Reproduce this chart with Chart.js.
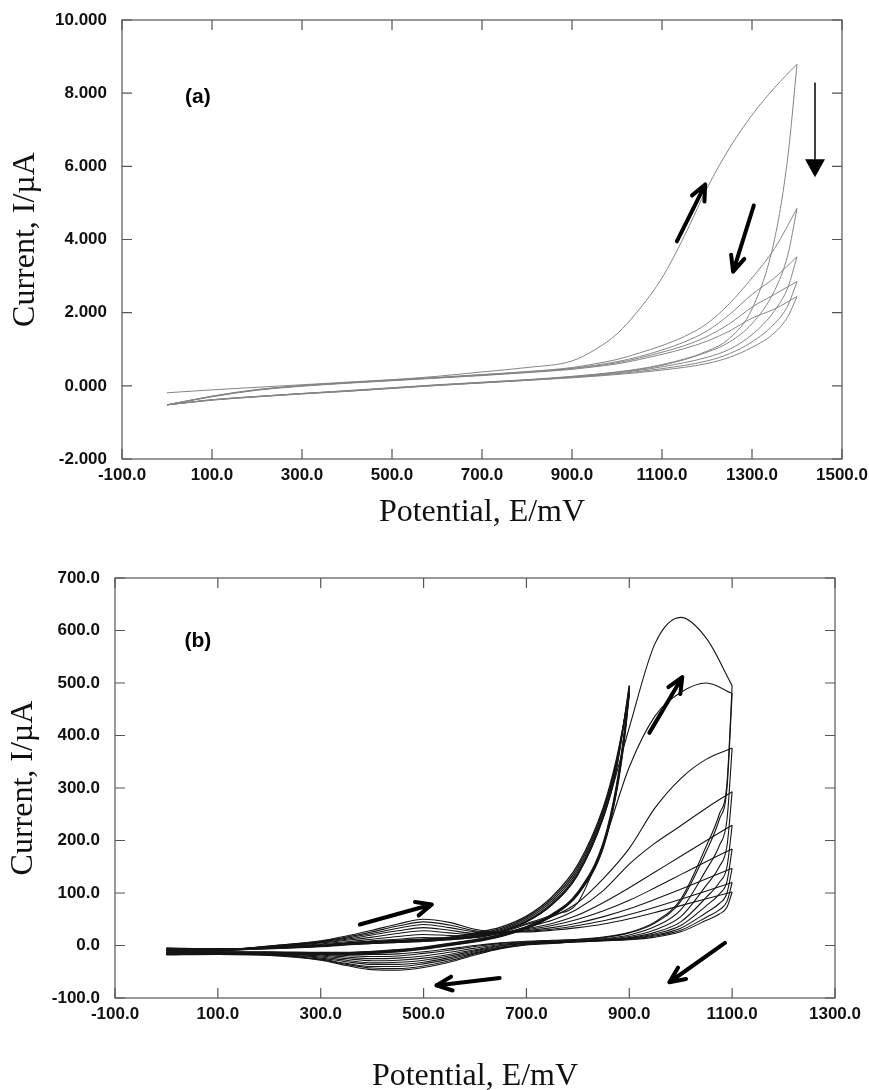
<!DOCTYPE html>
<html>
<head>
<meta charset="utf-8">
<title>Cyclic voltammograms</title>
<script src="https://cdn.jsdelivr.net/npm/chart.js@4.4.1/dist/chart.umd.min.js"></script>
<style>
  body { margin: 0; background: #fff; }
  .panel { position: absolute; left: 0; width: 869px; }
  #wrapA { top: 0; height: 540px; }
  #wrapB { top: 540px; height: 550px; }
</style>
</head>
<body>
<div id="wrapA" class="panel"><canvas id="PanelA"></canvas></div>
<div id="wrapB" class="panel"><canvas id="PanelB"></canvas></div>
<script>
// ---- panel (a): 5 cycles, 0 -> 1400 mV ----
var A_X_TICKS = [-100, 100, 300, 500, 700, 900, 1100, 1300, 1500];
var A_Y_TICKS = [-2, 0, 2, 4, 6, 8, 10];

var A_E_FWD = [0, 100, 200, 300, 400, 500, 600, 700, 800, 900, 950, 1000, 1050, 1100, 1150, 1200, 1250, 1300, 1350, 1400];
var A_FWD1 = [-0.19, -0.11, -0.04, 0.03, 0.10, 0.17, 0.26, 0.38, 0.50, 0.68, 0.98, 1.42, 2.10, 2.95, 4.10, 5.40, 6.50, 7.40, 8.15, 8.79];
var A_FWD2 = [-0.52, -0.28, -0.10, 0.01, 0.09, 0.16, 0.23, 0.31, 0.39, 0.50, 0.60, 0.72, 0.90, 1.10, 1.35, 1.70, 2.25, 2.95, 3.75, 4.85];
var A_FWD3 = [-0.52, -0.29, -0.11, 0.00, 0.08, 0.15, 0.22, 0.30, 0.38, 0.48, 0.56, 0.66, 0.80, 0.98, 1.20, 1.50, 1.95, 2.50, 2.95, 3.53];
var A_FWD4 = [-0.52, -0.29, -0.11, 0.00, 0.08, 0.15, 0.22, 0.29, 0.37, 0.47, 0.54, 0.63, 0.76, 0.92, 1.10, 1.35, 1.70, 2.15, 2.50, 2.85];
var A_FWD5 = [-0.52, -0.30, -0.12, -0.01, 0.07, 0.14, 0.21, 0.28, 0.36, 0.45, 0.52, 0.60, 0.72, 0.86, 1.02, 1.22, 1.50, 1.85, 2.10, 2.44];

var A_E_REV = [1400, 1380, 1350, 1300, 1250, 1200, 1100, 1000, 900, 800, 700, 600, 500, 400, 300, 200, 100, 0];
var A_REV1 = [8.79, 6.30, 4.00, 2.10, 1.30, 0.95, 0.58, 0.38, 0.26, 0.17, 0.10, 0.03, -0.05, -0.13, -0.21, -0.29, -0.38, -0.52];
var A_REV2 = [4.85, 3.60, 2.60, 1.70, 1.20, 0.92, 0.56, 0.37, 0.25, 0.16, 0.09, 0.02, -0.06, -0.14, -0.21, -0.29, -0.38, -0.52];
var A_REV3 = [3.53, 2.70, 2.05, 1.40, 1.00, 0.78, 0.52, 0.35, 0.24, 0.16, 0.09, 0.02, -0.06, -0.14, -0.21, -0.29, -0.38, -0.52];
var A_REV4 = [2.85, 2.20, 1.70, 1.20, 0.88, 0.68, 0.47, 0.33, 0.23, 0.15, 0.08, 0.01, -0.07, -0.15, -0.22, -0.30, -0.39, -0.52];
var A_REV5 = [2.44, 1.90, 1.45, 1.05, 0.78, 0.61, 0.43, 0.31, 0.22, 0.15, 0.08, 0.01, -0.07, -0.15, -0.22, -0.30, -0.39, -0.52];

// ---- panel (b): cycles to 1100 mV and cycles to 900 mV ----
var B_X_TICKS = [-100, 100, 300, 500, 700, 900, 1100, 1300];
var B_Y_TICKS = [-100, 0, 100, 200, 300, 400, 500, 600, 700];

var B_E_FWD = [0, 100, 200, 300, 350, 400, 450, 500, 550, 600, 650, 700, 750, 800, 850, 900, 950, 1000, 1050, 1100];
var B_FWD1 = [-5, -6, -5, -1, 2, 4, 6, 8, 11, 16, 26, 45, 78, 135, 245, 415, 575, 625, 585, 495];
var B_FWD2 = [-6, -7, -4, 0, 3, 6, 8, 10, 13, 18, 27, 42, 58, 82, 195, 340, 437, 482, 500, 480];
var B_FWD3 = [-7, -7, -4, 2, 5, 9, 12, 15, 14, 15, 24, 40, 55, 82, 128, 185, 262, 318, 355, 376];
var B_FWD4 = [-8, -8, -3, 3, 7, 12, 17, 21, 19, 18, 23, 35, 48, 70, 105, 155, 195, 228, 262, 293];
var B_FWD5 = [-5, -7, -3, 5, 10, 16, 23, 28, 24, 21, 24, 32, 42, 58, 82, 110, 140, 170, 200, 229];
var B_FWD6 = [-6, -8, -2, 6, 12, 20, 28, 34, 29, 23, 24, 30, 38, 50, 66, 86, 110, 135, 160, 184];
var B_FWD7 = [-7, -8, -2, 7, 14, 23, 33, 40, 34, 26, 24, 28, 34, 43, 55, 70, 88, 107, 127, 147];
var B_FWD8 = [-8, -9, -1, 8, 16, 26, 37, 45, 39, 28, 25, 27, 31, 38, 47, 59, 73, 88, 104, 120];
var B_FWD9 = [-9, -9, -1, 9, 18, 29, 41, 50, 44, 31, 26, 26, 29, 34, 41, 51, 63, 76, 89, 102];

var B_E_REV = [1100, 1090, 1075, 1050, 1000, 950, 900, 850, 800, 750, 700, 650, 600, 550, 500, 450, 400, 350, 300, 200, 100, 0];
var B_REV1 = [495, 310, 250, 190, 88, 45, 25, 16, 12, 10, 8, 5, 0, -6, -12, -16, -17, -16, -15, -13, -12, -12];
var B_REV2 = [480, 300, 240, 180, 84, 43, 24, 15, 11, 9, 7, 4, -2, -9, -15, -20, -21, -19, -17, -14, -13, -13];
var B_REV3 = [376, 240, 190, 145, 68, 36, 20, 13, 10, 8, 6, 2, -5, -13, -20, -24, -25, -22, -18, -15, -14, -14];
var B_REV4 = [293, 190, 150, 115, 55, 30, 17, 12, 9, 7, 5, 0, -8, -17, -24, -28, -29, -25, -20, -16, -15, -15];
var B_REV5 = [229, 150, 120, 92, 45, 25, 15, 11, 8, 6, 4, -1, -10, -20, -28, -32, -33, -28, -22, -17, -15, -16];
var B_REV6 = [184, 122, 98, 76, 38, 22, 14, 10, 8, 6, 3, -3, -12, -23, -32, -36, -36, -31, -24, -17, -16, -16];
var B_REV7 = [147, 100, 80, 63, 33, 20, 13, 10, 7, 5, 2, -4, -14, -26, -35, -40, -40, -34, -26, -18, -16, -17];
var B_REV8 = [120, 84, 68, 54, 29, 18, 12, 9, 7, 5, 2, -5, -16, -29, -39, -44, -43, -36, -27, -18, -17, -17];
var B_REV9 = [102, 73, 60, 48, 26, 16, 11, 9, 7, 4, 1, -6, -18, -32, -42, -47, -46, -38, -28, -19, -17, -18];

var S_E_FWD = [0, 100, 200, 300, 350, 400, 450, 500, 550, 600, 650, 700, 750, 800, 850, 875, 900];
var S_FWD1 = [-6, -7, -6, -2, 1, 4, 6, 8, 11, 16, 26, 45, 78, 135, 245, 335, 495];
var S_FWD2 = [-7, -8, -6, -1, 2, 5, 7, 9, 12, 18, 28, 47, 81, 139, 250, 340, 490];
var S_FWD3 = [-8, -8, -5, -1, 3, 6, 8, 10, 13, 20, 30, 50, 85, 144, 255, 345, 486];
var S_FWD4 = [-9, -9, -5, 0, 4, 7, 9, 11, 15, 22, 32, 53, 89, 149, 260, 350, 482];
var S_FWD5 = [-10, -10, -5, 0, 4, 8, 10, 12, 16, 24, 35, 56, 93, 154, 265, 355, 478];

var S_E_REV = [900, 890, 875, 850, 800, 750, 700, 650, 600, 550, 500, 450, 400, 350, 300, 200, 100, 0];
var S_REV1 = [495, 405, 305, 198, 102, 60, 36, 21, 11, 4, -3, -8, -11, -13, -13, -12, -12, -12];
var S_REV2 = [490, 400, 300, 195, 100, 59, 35, 20, 10, 3, -4, -9, -12, -14, -14, -13, -13, -13];
var S_REV3 = [486, 396, 297, 192, 99, 58, 34, 19, 9, 2, -5, -10, -13, -15, -15, -14, -14, -15];
var S_REV4 = [482, 392, 294, 190, 98, 57, 33, 18, 8, 1, -6, -11, -14, -16, -16, -15, -15, -16];
var S_REV5 = [478, 388, 291, 188, 97, 56, 32, 17, 7, 0, -7, -12, -15, -17, -17, -16, -16, -17];

var SERIF = '"Liberation Serif", "Times New Roman", serif';
var SANS = '"Liberation Sans", Arial, sans-serif';

// pairs a potential grid with a current list
function branch(E, I, color, width)
{
  return {
    data: E.map(function (e, i) { return { x: e, y: I[i] }; }),
    showLine: true,
    borderColor: color,
    borderWidth: width,
    pointRadius: 0,
    cubicInterpolationMode: 'monotone'
  };
}

// box round the plot area with inward ticks on all four sides
var frameTicks = {
  id: 'frameTicks',
  afterDraw: function (chart)
  {
    var ctx = chart.ctx, a = chart.chartArea, x = chart.scales.x, y = chart.scales.y;
    var len = 10;
    ctx.save();
    ctx.strokeStyle = '#555';
    ctx.lineWidth = 1.2;
    ctx.strokeRect(a.left, a.top, a.right - a.left, a.bottom - a.top);
    ctx.beginPath();
    x.ticks.forEach(function (t) {
      var px = x.getPixelForValue(t.value);
      ctx.moveTo(px, a.bottom); ctx.lineTo(px, a.bottom - len);
      ctx.moveTo(px, a.top); ctx.lineTo(px, a.top + len);
    });
    y.ticks.forEach(function (t) {
      var py = y.getPixelForValue(t.value);
      ctx.moveTo(a.left, py); ctx.lineTo(a.left + len, py);
      ctx.moveTo(a.right, py); ctx.lineTo(a.right - len, py);
    });
    ctx.stroke();
    ctx.restore();
  }
};

// direction arrows and panel letter, placed in data units
var notes = {
  id: 'notes',
  afterDatasetsDraw: function (chart, args, opts)
  {
    var ctx = chart.ctx, x = chart.scales.x, y = chart.scales.y;
    ctx.save();
    (opts.arrows || []).forEach(function (ar) {
      var x0 = x.getPixelForValue(ar.from[0]), y0 = y.getPixelForValue(ar.from[1]);
      var x1 = x.getPixelForValue(ar.to[0]), y1 = y.getPixelForValue(ar.to[1]);
      var ang = Math.atan2(y1 - y0, x1 - x0);
      ctx.strokeStyle = '#000';
      ctx.fillStyle = '#000';
      if (ar.thin) {
        var head = 18, half = 10;
        ctx.lineWidth = 1.5;
        ctx.beginPath(); ctx.moveTo(x0, y0);
        ctx.lineTo(x1 - head * Math.cos(ang), y1 - head * Math.sin(ang)); ctx.stroke();
        ctx.beginPath();
        ctx.moveTo(x1, y1);
        ctx.lineTo(x1 - head * Math.cos(ang) + half * Math.sin(ang), y1 - head * Math.sin(ang) - half * Math.cos(ang));
        ctx.lineTo(x1 - head * Math.cos(ang) - half * Math.sin(ang), y1 - head * Math.sin(ang) + half * Math.cos(ang));
        ctx.closePath(); ctx.fill();
      } else {
        var barb = 17, spread = 0.42;
        ctx.lineWidth = 4;
        ctx.lineCap = 'round';
        ctx.beginPath();
        ctx.moveTo(x0, y0); ctx.lineTo(x1, y1);
        ctx.moveTo(x1, y1);
        ctx.lineTo(x1 - barb * Math.cos(ang - spread), y1 - barb * Math.sin(ang - spread));
        ctx.moveTo(x1, y1);
        ctx.lineTo(x1 - barb * Math.cos(ang + spread), y1 - barb * Math.sin(ang + spread));
        ctx.stroke();
      }
    });
    if (opts.letter) {
      ctx.font = 'bold 21px ' + SANS;
      ctx.fillStyle = '#000';
      ctx.textAlign = 'left';
      ctx.textBaseline = 'middle';
      ctx.fillText(opts.letter.text, x.getPixelForValue(opts.letter.at[0]), y.getPixelForValue(opts.letter.at[1]));
    }
    ctx.restore();
  }
};

function makePanel(canvasId, cfg)
{
  return new Chart(canvasId, {
    type: 'scatter',
    data: { datasets: cfg.datasets },
    plugins: [frameTicks, notes],
    options: {
      responsive: true,
      maintainAspectRatio: false,
      animation: false,
      devicePixelRatio: 1,
      layout: { padding: cfg.padding },
      plugins: {
        legend: { display: false },
        tooltip: { enabled: false },
        notes: { arrows: cfg.arrows, letter: cfg.letter }
      },
      scales: {
        x: {
          type: 'linear',
          min: cfg.xTicks[0], max: cfg.xTicks[cfg.xTicks.length - 1],
          afterBuildTicks: function (s) { s.ticks = cfg.xTicks.map(function (v) { return { value: v }; }); },
          afterFit: function (s) { s.height = cfg.xHeight; s.paddingLeft = 0; s.paddingRight = 0; },
          grid: { display: false, drawTicks: false },
          border: { display: false },
          ticks: {
            color: '#111', padding: 6, maxRotation: 0, autoSkip: false,
            font: { family: SANS, size: 17, weight: 'bold' },
            callback: function (v) { return v.toFixed(1); }
          },
          title: {
            display: true, text: 'Potential, E/mV', color: '#111',
            font: { family: SERIF, size: 32 }, padding: cfg.xTitlePad
          }
        },
        y: {
          type: 'linear',
          min: cfg.yTicks[0], max: cfg.yTicks[cfg.yTicks.length - 1],
          afterBuildTicks: function (s) { s.ticks = cfg.yTicks.map(function (v) { return { value: v }; }); },
          afterFit: function (s) { s.width = cfg.yWidth; s.paddingTop = 0; s.paddingBottom = 0; },
          grid: { display: false, drawTicks: false },
          border: { display: false },
          ticks: {
            color: '#111', padding: 15, autoSkip: false,
            font: { family: SANS, size: 17, weight: 'bold' },
            callback: function (v) { return v.toFixed(cfg.yDigits); }
          },
          title: {
            display: true, text: 'Current, I/\u00b5A', color: '#111',
            font: { family: SERIF, size: 32 }, padding: cfg.yTitlePad
          }
        }
      }
    }
  });
}

var greyA = '#858585';
makePanel('PanelA', {
  datasets: [
    branch(A_E_FWD, A_FWD1, greyA, 1), branch(A_E_REV, A_REV1, greyA, 1),
    branch(A_E_FWD, A_FWD2, greyA, 1), branch(A_E_REV, A_REV2, greyA, 1),
    branch(A_E_FWD, A_FWD3, greyA, 1), branch(A_E_REV, A_REV3, greyA, 1),
    branch(A_E_FWD, A_FWD4, greyA, 1), branch(A_E_REV, A_REV4, greyA, 1),
    branch(A_E_FWD, A_FWD5, greyA, 1), branch(A_E_REV, A_REV5, greyA, 1)
  ],
  xTicks: A_X_TICKS, yTicks: A_Y_TICKS, yDigits: 3,
  padding: { top: 20, right: 27, left: 0, bottom: 0 },
  xHeight: 81, yWidth: 122,
  xTitlePad: { top: 4, bottom: 8 }, yTitlePad: { top: 6, bottom: 0 },
  arrows: [
    { from: [1133, 3.95], to: [1196, 5.5] },
    { from: [1304, 4.93], to: [1258, 3.12] },
    { from: [1440, 8.27], to: [1440, 5.70], thin: true }
  ],
  letter: { text: '(a)', at: [40, 7.9] }
});

var ink = '#151515';
makePanel('PanelB', {
  datasets: [
    branch(S_E_FWD, S_FWD1, ink, 1.3), branch(S_E_REV, S_REV1, ink, 1.3),
    branch(S_E_FWD, S_FWD2, ink, 1.3), branch(S_E_REV, S_REV2, ink, 1.3),
    branch(S_E_FWD, S_FWD3, ink, 1.3), branch(S_E_REV, S_REV3, ink, 1.3),
    branch(S_E_FWD, S_FWD4, ink, 1.3), branch(S_E_REV, S_REV4, ink, 1.3),
    branch(S_E_FWD, S_FWD5, ink, 1.3), branch(S_E_REV, S_REV5, ink, 1.3),
    branch(B_E_FWD, B_FWD1, ink, 1.1), branch(B_E_REV, B_REV1, ink, 1.1),
    branch(B_E_FWD, B_FWD2, ink, 1.1), branch(B_E_REV, B_REV2, ink, 1.1),
    branch(B_E_FWD, B_FWD3, ink, 1.1), branch(B_E_REV, B_REV3, ink, 1.1),
    branch(B_E_FWD, B_FWD4, ink, 1.1), branch(B_E_REV, B_REV4, ink, 1.1),
    branch(B_E_FWD, B_FWD5, ink, 1.1), branch(B_E_REV, B_REV5, ink, 1.1),
    branch(B_E_FWD, B_FWD6, ink, 1.1), branch(B_E_REV, B_REV6, ink, 1.1),
    branch(B_E_FWD, B_FWD7, ink, 1.1), branch(B_E_REV, B_REV7, ink, 1.1),
    branch(B_E_FWD, B_FWD8, ink, 1.1), branch(B_E_REV, B_REV8, ink, 1.1),
    branch(B_E_FWD, B_FWD9, ink, 1.1), branch(B_E_REV, B_REV9, ink, 1.1)
  ],
  xTicks: B_X_TICKS, yTicks: B_Y_TICKS, yDigits: 1,
  padding: { top: 38, right: 34, left: 0, bottom: 0 },
  xHeight: 92, yWidth: 115,
  xTitlePad: { top: 4, bottom: -6 }, yTitlePad: { top: 4, bottom: 0 },
  arrows: [
    { from: [939, 405], to: [1003, 511] },
    { from: [376, 40], to: [516, 78] },
    { from: [648, -62], to: [525, -76] },
    { from: [1086, 5], to: [978, -70] }
  ],
  letter: { text: '(b)', at: [35, 580] }
});
</script>
</body>
</html>
